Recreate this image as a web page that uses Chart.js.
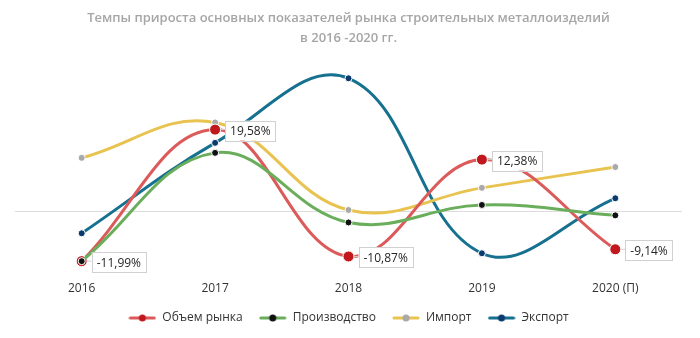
<!DOCTYPE html>
<html lang="ru">
<head>
<meta charset="utf-8">
<title>Темпы прироста</title>
<script src="https://cdn.jsdelivr.net/npm/chart.js@4.4.1/dist/chart.umd.min.js"></script>
<style>
  html, body { margin: 0; padding: 0; background: #fff; }
  #wrap { width: 700px; height: 338px; position: relative; }
</style>
</head>
<body>
<div id="wrap"><canvas id="grafico"></canvas></div>
<script>
// Данные
const anos = ["2016", "2017", "2018", "2019", "2020 (П)"];
const volumeMercado = [-11.99, 19.58, -10.87, 12.38, -9.14];
const producao = [-12.0, 14.0, -2.7, 1.5, -1.0];
const importacao = [12.8, 21.3, 0.3, 5.6, 10.6];
const exportacao = [-5.3, 16.4, 31.9, -10.1, 3.1];
const nomesSeries = ["Объем рынка", "Производство", "Импорт", "Экспорт"];
const tituloLinhas = [
  "Темпы прироста основных показателей рынка строительных металлоизделий",
  "в 2016 -2020 гг."
];

const FONTE = "'Open Sans', 'Noto Sans', sans-serif";

// ícone da legenda: linha com ponto
function iconeLegenda(corLinha, corPonto) {
  const c = document.createElement("canvas");
  c.width = 28;
  c.height = 8;
  const g = c.getContext("2d");
  g.strokeStyle = corLinha;
  g.lineWidth = 3;
  g.lineCap = "round";
  g.beginPath();
  g.moveTo(2, 4);
  g.lineTo(26, 4);
  g.stroke();
  g.fillStyle = corPonto;
  g.beginPath();
  g.arc(14, 4, 3.5, 0, Math.PI * 2);
  g.fill();
  return c;
}

// rótulos de dados (só para "Объем рынка")
const rotulosPlugin = {
  id: "rotulos",
  afterDatasetsDraw(chart) {
    const ctx = chart.ctx;
    const meta = chart.getDatasetMeta(0);
    ctx.save();
    ctx.font = "12px " + FONTE;
    ctx.textBaseline = "middle";
    meta.data.forEach((pt, i) => {
      const txt = volumeMercado[i].toFixed(2).replace(".", ",") + "%";
      const w = ctx.measureText(txt).width + 10;
      const h = 20;
      const x = pt.x + 10;
      const y = pt.y - h / 2 + 1;
      ctx.strokeStyle = "#d0d0d0";
      ctx.lineWidth = 1;
      ctx.beginPath();
      ctx.moveTo(pt.x + 5, pt.y);
      ctx.lineTo(x, pt.y);
      ctx.stroke();
      ctx.fillStyle = "#fff";
      ctx.fillRect(x, y, w, h);
      ctx.strokeRect(Math.round(x) + 0.5, Math.round(y) + 0.5, Math.round(w), h);
      ctx.fillStyle = "#262626";
      ctx.fillText(txt, x + 5, y + h / 2 + 1);
    });
    ctx.restore();
  }
};

const series = [
  { dados: volumeMercado, linha: "#dc5a5a", ponto: "#c0181c", raio: 5.5 },
  { dados: producao, linha: "#6aae5c", ponto: "#111111", raio: 3.5 },
  { dados: importacao, linha: "#e8c350", ponto: "#a9a9a9", raio: 3.5 },
  { dados: exportacao, linha: "#16708f", ponto: "#0b3a6e", raio: 3.5 }
];

// ordem de desenho: o primeiro fica por cima
const datasets = series.map((s, i) => ({
  label: nomesSeries[i],
  data: s.dados,
  borderColor: s.linha,
  backgroundColor: s.ponto,
  pointBackgroundColor: s.ponto,
  pointBorderColor: "#fff",
  pointBorderWidth: 1,
  pointRadius: s.raio,
  borderWidth: 3,
  tension: 0.4,
  order: i === 1 ? 0 : i + 1
}));

new Chart(document.getElementById("grafico"), {
  type: "line",
  data: { labels: anos, datasets: datasets },
  options: {
    responsive: true,
    maintainAspectRatio: false,
    animation: false,
    layout: { padding: { left: 15, right: 18, top: 0, bottom: 4 } },
    plugins: {
      title: {
        display: true,
        text: tituloLinhas,
        color: "#a6a6a6",
        font: { family: FONTE, size: 13, weight: "600", lineHeight: 1.55 },
        padding: { top: 8, bottom: 10 }
      },
      legend: {
        position: "bottom",
        labels: {
          usePointStyle: true,
          pointStyleWidth: 28,
          padding: 16,
          color: "#333",
          font: { family: FONTE, size: 12 },
          generateLabels(chart) {
            return series.map((s, i) => ({
              text: nomesSeries[i],
              pointStyle: iconeLegenda(s.linha, s.ponto),
              fillStyle: s.ponto,
              strokeStyle: s.linha,
              lineWidth: 0,
              fontColor: "#333",
              datasetIndex: i,
              hidden: false
            }));
          }
        }
      },
      tooltip: { enabled: false }
    },
    scales: {
      x: {
        offset: true,
        grid: { display: false, drawTicks: false },
        border: { display: false },
        ticks: { color: "#333", font: { family: FONTE, size: 12 }, padding: 0 }
      },
      y: {
        min: -16.9,
        max: 36.7,
        grid: {
          drawTicks: false,
          color: (c) => (c.tick && c.tick.value === 0 ? "#dcdcdc" : "rgba(0,0,0,0)")
        },
        border: { display: false },
        ticks: { display: false, stepSize: 5 }
      }
    }
  },
  plugins: [rotulosPlugin]
});
</script>
</body>
</html>
